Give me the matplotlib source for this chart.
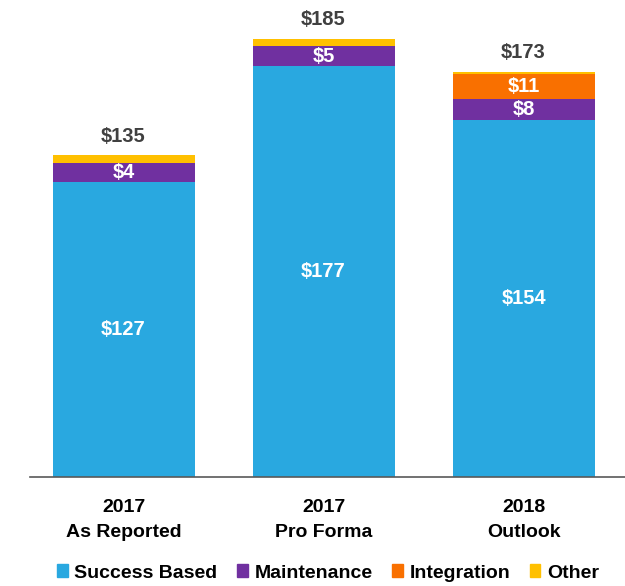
import matplotlib.pyplot as plt
from matplotlib.patches import Patch

plt.rcParams['font.family'] = ['Liberation Sans', 'DejaVu Sans']

categories = ['2017\nAs Reported', '2017\nPro Forma', '2018\nOutlook']
success = [127, 177, 154]
maintenance = [8.2, 8.6, 9.0]
integration = [0, 0, 10.8]
other = [3.4, 3.4, 0.9]

success_lbl = ['$127', '$177', '$154']
maint_lbl = ['$4', '$5', '$8']
integ_lbl = ['', '', '$11']
total_lbl = ['$135', '$185', '$173']

series = ['Success Based', 'Maintenance', 'Integration', 'Other']
colors = ['#29A8E0', '#7030A0', '#F97000', '#FFC000']

fig = plt.figure(figsize=(6.25, 5.86), dpi=100)
ax = fig.add_axes([30 / 625, 109 / 586, 595 / 625, 477 / 586])

x = list(range(len(categories)))
w = 0.71
bottom = [0, 0, 0]
layers = [(success, success_lbl), (maintenance, maint_lbl),
          (integration, integ_lbl), (other, None)]
for (vals, lbls), col in zip(layers, colors):
    ax.bar(x, vals, w, bottom=bottom, color=col, edgecolor='none')
    if lbls:
        for i in x:
            if lbls[i]:
                ax.text(i, bottom[i] + vals[i] / 2, lbls[i], ha='center', va='center',
                        color='white', fontsize=14.5, fontweight='bold')
    bottom = [b + v for b, v in zip(bottom, vals)]

for i in x:
    ax.text(i, bottom[i] + 4.0, total_lbl[i], ha='center', va='bottom',
            color='#404040', fontsize=14.5, fontweight='bold')

ax.set_xlim(-0.4675, 2.5075)
ax.set_ylim(0, 205.6)
ax.set_xticks(x)
ax.set_xticklabels(categories, fontsize=14, fontweight='bold', linespacing=1.6)
ax.tick_params(axis='x', length=0, pad=16)
ax.set_yticks([])
for s in ['top', 'right', 'left']:
    ax.spines[s].set_visible(False)
ax.spines['bottom'].set_color('#595959')
ax.spines['bottom'].set_linewidth(1.2)

handles = [Patch(color=c, label=s) for c, s in zip(colors, series)]
leg = fig.legend(handles=handles, loc='center', bbox_to_anchor=(0.525, 1 - 573 / 586), ncol=4,
                 frameon=False, prop={'size': 14, 'weight': 'bold'},
                 handlelength=0.55, handleheight=0.6, handletextpad=0.35, columnspacing=1.0)
for t in leg.get_texts():
    t.set_va('baseline')

fig.savefig('out.png', dpi=100)
